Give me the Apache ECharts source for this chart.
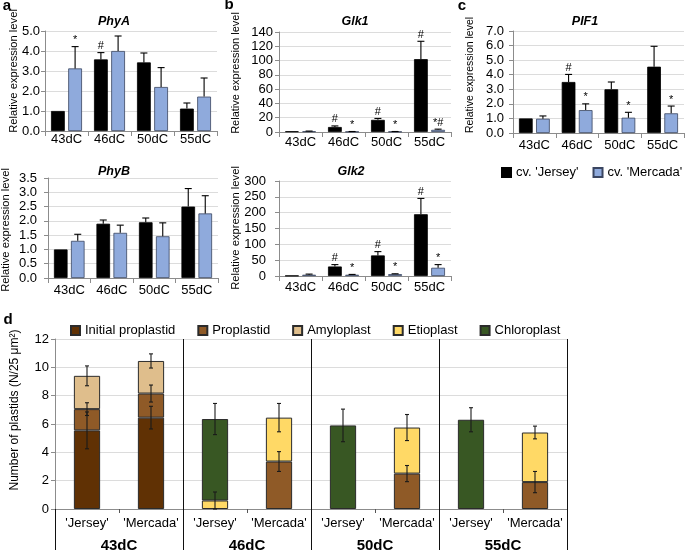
<!DOCTYPE html>
<html><head><meta charset="utf-8">
<script src="https://cdn.jsdelivr.net/npm/echarts@6/dist/echarts.min.js"></script>
<style>html,body{margin:0;padding:0;background:#fff}#c{width:685px;height:554px}</style>
</head><body><div id="c"></div>
<script>
// ---------- DATA ----------
const cats = ['43dC', '46dC', '50dC', '55dC'];
const seriesNames = ["cv. 'Jersey'", "cv. 'Mercada'"];

const phyA_J = [1.0, 3.58, 3.43, 1.12];
const phyA_Jerr = [0, 0.34, 0.47, 0.28];
const phyA_M = [3.13, 4.0, 2.2, 1.72];
const phyA_Merr = [1.09, 0.75, 0.97, 0.93];
const phyA_Jsig = ['', '#', '', ''];
const phyA_Msig = ['*', '', '', ''];

const phyB_J = [1.0, 1.9, 1.95, 2.5];
const phyB_Jerr = [0, 0.13, 0.15, 0.63];
const phyB_M = [1.3, 1.58, 1.46, 2.26];
const phyB_Merr = [0.23, 0.27, 0.47, 0.62];
const phyB_Jsig = ['', '', '', ''];
const phyB_Msig = ['', '', '', ''];

const glk1_J = [1, 7, 17, 102];
const glk1_Jerr = [0, 1.5, 2, 25];
const glk1_M = [1, 0.5, 0.5, 3];
const glk1_Merr = [0.3, 0.2, 0.2, 1];
const glk1_Jsig = ['', '#', '#', '#'];
const glk1_Msig = ['', '*', '*', '*#'];

const glk2_J = [1, 30, 65, 195];
const glk2_Jerr = [0, 6, 12, 50];
const glk2_M = [4, 4, 6, 26];
const glk2_Merr = [2, 1, 1, 10];
const glk2_Jsig = ['', '#', '#', '#'];
const glk2_Msig = ['', '*', '*', '*'];

const pif1_J = [1.0, 3.5, 3.0, 4.55];
const pif1_Jerr = [0, 0.52, 0.5, 1.4];
const pif1_M = [0.98, 1.57, 1.05, 1.35];
const pif1_Merr = [0.19, 0.43, 0.37, 0.5];
const pif1_Jsig = ['', '#', '', ''];
const pif1_Msig = ['', '*', '*', '*'];

// panel d
const dCats = ["'Jersey'", "'Mercada'", "'Jersey'", "'Mercada'", "'Jersey'", "'Mercada'", "'Jersey'", "'Mercada'"];
const dGroups = ['43dC', '46dC', '50dC', '55dC'];
const plastidNames = ['Initial proplastid', 'Proplastid', 'Amyloplast', 'Etioplast', 'Chloroplast'];
const initialP = [5.55, 6.45, null, null, null, null, null, null];
const initialPErr = [1.3, 0.8, null, null, null, null, null, null];
const proP = [1.5, 1.7, null, 3.35, null, 2.5, null, 1.9];
const proPErr = [0.45, 0.6, null, 0.7, null, 0.57, null, 0.75];
const amylo = [2.35, 2.3, null, null, null, null, null, null];
const amyloErr = [0.7, 0.5, null, null, null, null, null, null];
const etio = [null, null, 0.6, 3.1, null, 3.25, null, 3.5];
const etioErr = [null, null, 0.6, 1.0, null, 0.92, null, 0.45];
const chloro = [null, null, 5.75, null, 5.9, null, 6.3, null];
const chloroErr = [null, null, 1.1, null, 1.15, null, 0.85, null];

// ---------- STYLE ----------
const FONT = "'Liberation Sans', Arial, sans-serif";
const colJ = '#000000', colM = '#8faadc';
const plastidColors = ['#603104', '#8f5a27', '#dfbe8c', '#ffd966', '#385723'];
const axisGray = '#8c8c8c', gridGray = '#dcdcdc';

const chart = echarts.init(document.getElementById('c'), null, {renderer: 'canvas'});

const panels = [
  {grid: {left: 45, top: 31, width: 172, height: 100}, max: 5, int: 1, dec: 1, lm: 5, xm: 2,
   J: phyA_J, Je: phyA_Jerr, M: phyA_M, Me: phyA_Merr, Js: phyA_Jsig, Ms: phyA_Msig},
  {grid: {left: 48, top: 178, width: 170, height: 100}, max: 3.5, int: 0.5, dec: 1, lm: 11, xm: 6,
   J: phyB_J, Je: phyB_Jerr, M: phyB_M, Me: phyB_Merr, Js: phyB_Jsig, Ms: phyB_Msig},
  {grid: {left: 279, top: 32, width: 172, height: 100}, max: 140, int: 20, dec: 0, lm: 6, xm: 4,
   J: glk1_J, Je: glk1_Jerr, M: glk1_M, Me: glk1_Merr, Js: glk1_Jsig, Ms: glk1_Msig},
  {grid: {left: 279, top: 181, width: 172, height: 95}, max: 300, int: 50, dec: 0, lm: 13, xm: 5,
   J: glk2_J, Je: glk2_Jerr, M: glk2_M, Me: glk2_Merr, Js: glk2_Jsig, Ms: glk2_Msig},
  {grid: {left: 513, top: 31, width: 171, height: 102}, max: 7, int: 1, dec: 1, lm: 9, xm: 6,
   J: pif1_J, Je: pif1_Jerr, M: pif1_M, Me: pif1_Merr, Js: pif1_Jsig, Ms: pif1_Msig}
];

const grids = [], xAxes = [], yAxes = [], series = [];
const BAR_W = 0.32, BAR_GAP = 0.25;
const OFF = (BAR_W * (1 + BAR_GAP)) / 2;

function errSeries(gi, vals, errs, sig, off, both, z) {
  return {
    type: 'custom', xAxisIndex: gi, yAxisIndex: gi, z: z || 5, silent: true,
    data: vals.map((v, i) => [i, (v == null ? 0 : v) + (errs[i] || 0)]),
    encode: {x: 0, y: 1},
    renderItem: function (params, api) {
      const i = params.dataIndex;
      const v = vals[i], e = errs[i];
      if (v == null) return null;
      const band = api.size([1, 0])[0];
      const base = api.coord([i, v]);
      const x = base[0] + off * band;
      const topY = api.coord([i, v + (e || 0)])[1];
      const botY = both ? api.coord([i, v - (e || 0)])[1] : base[1];
      const ch = [];
      const capW = both ? 2 : 3.5;
      const stroke = both ? '#1a1a1a' : '#000';
      if (e > 0) {
        ch.push({type: 'line', shape: {x1: x, y1: topY, x2: x, y2: botY}, style: {stroke: stroke, lineWidth: 1.1}});
        ch.push({type: 'line', shape: {x1: x - capW, y1: topY, x2: x + capW, y2: topY}, style: {stroke: stroke, lineWidth: 1.1}});
        if (both) ch.push({type: 'line', shape: {x1: x - capW, y1: botY, x2: x + capW, y2: botY}, style: {stroke: stroke, lineWidth: 1.1}});
      }
      if (sig && sig[i]) {
        ch.push({type: 'text', x: x, y: topY - 1, style: {text: sig[i], textAlign: 'center', textVerticalAlign: 'bottom', font: '11px ' + FONT, fill: '#000'}});
      }
      return {type: 'group', children: ch};
    }
  };
}

panels.forEach((p, gi) => {
  grids.push(p.grid);
  xAxes.push({
    type: 'category', gridIndex: gi, data: cats,
    axisLine: {lineStyle: {color: axisGray}},
    axisTick: {show: true, length: 5, lineStyle: {color: axisGray}},
    axisLabel: {margin: p.xm, fontFamily: FONT, fontSize: 13, color: '#000'}
  });
  yAxes.push({
    type: 'value', gridIndex: gi, min: 0, max: p.max, interval: p.int,
    axisLine: {show: true, lineStyle: {color: axisGray}},
    axisTick: {show: true, length: 4, lineStyle: {color: axisGray}},
    splitLine: {lineStyle: {color: gridGray}},
    axisLabel: {margin: p.lm, fontFamily: FONT, fontSize: 13, color: '#000',
      formatter: v => v.toFixed(p.dec)}
  });
  series.push({
    name: seriesNames[0], type: 'bar', xAxisIndex: gi, yAxisIndex: gi, data: p.J,
    barWidth: (BAR_W * 100) + '%', barGap: (BAR_GAP * 100) + '%',
    itemStyle: {color: colJ, borderColor: '#000', borderWidth: 0.8}, silent: true
  });
  series.push({
    name: seriesNames[1], type: 'bar', xAxisIndex: gi, yAxisIndex: gi, data: p.M,
    barWidth: (BAR_W * 100) + '%', barGap: (BAR_GAP * 100) + '%',
    itemStyle: {color: colM, borderColor: '#3a4560', borderWidth: 0.8}, silent: true
  });
  series.push(errSeries(gi, p.J, p.Je, p.Js, -OFF, false));
  series.push(errSeries(gi, p.M, p.Me, p.Ms, OFF, false));
});

// panel d
const dG = panels.length; // grid index 5
grids.push({left: 55, top: 339, width: 512, height: 170});
xAxes.push({
  type: 'category', gridIndex: dG, data: dCats,
  axisLine: {lineStyle: {color: axisGray}},
  axisTick: {show: true, interval: 0, length: 4, lineStyle: {color: '#555'}},
  axisLabel: {margin: 8, interval: 0, fontFamily: FONT, fontSize: 13, color: '#000'}
});
xAxes.push({
  type: 'category', gridIndex: dG, data: dGroups, position: 'bottom',
  axisLine: {show: false},
  axisTick: {show: true, length: 41, lineStyle: {color: '#111'}},
  splitLine: {show: true, lineStyle: {color: '#111', width: 1}},
  axisLabel: {margin: 29, fontFamily: FONT, fontSize: 15, fontWeight: 'bold', color: '#000'}
});
yAxes.push({
  type: 'value', gridIndex: dG, min: 0, max: 12, interval: 2,
  axisLine: {show: true, lineStyle: {color: axisGray}},
  axisTick: {show: true, length: 4, lineStyle: {color: axisGray}},
  splitLine: {lineStyle: {color: gridGray}},
  axisLabel: {margin: 6, fontFamily: FONT, fontSize: 13, color: '#000'}
});
const dVals = [initialP, proP, amylo, etio, chloro];
const dErrs = [initialPErr, proPErr, amyloErr, etioErr, chloroErr];
dVals.forEach((arr, s) => {
  series.push({
    name: plastidNames[s], type: 'bar', xAxisIndex: dG, yAxisIndex: dG, stack: 'plastid',
    data: arr, barWidth: '41%', silent: true,
    itemStyle: {color: plastidColors[s], borderColor: '#2b2b2b', borderWidth: 1}
  });
});
// cumulative tops for error bars
dVals.forEach((arr, s) => {
  const tops = arr.map((v, i) => {
    if (v == null) return null;
    let sum = 0;
    for (let k = 0; k <= s; k++) sum += (dVals[k][i] || 0);
    return sum;
  });
  series.push(errSeries(dG, tops, dErrs[s], null, 0, true, 10));
});

const textStyle = (size, bold, italic) => ({
  font: (italic ? 'italic ' : '') + (bold ? 'bold ' : '') + size + 'px ' + FONT,
  fill: '#000', textAlign: 'center', textVerticalAlign: 'middle'
});
const g = [];
function addText(x, y, text, size, bold, italic, rot) {
  g.push({type: 'text', x: x, y: y, rotation: rot ? Math.PI / 2 : 0, silent: true,
    style: Object.assign({text: text}, textStyle(size, bold, italic))});
}
// panel letters
addText(7, 6, 'a', 15, true);
addText(229, 5, 'b', 15, true);
addText(462, 6, 'c', 15, true);
addText(8, 320, 'd', 15, true);
// gene titles
addText(114, 22, 'PhyA', 12.5, true, true);
addText(114, 172, 'PhyB', 12.5, true, true);
addText(355, 22, 'Glk1', 12.5, true, true);
addText(351, 172, 'Glk2', 12.5, true, true);
addText(585, 22, 'PIF1', 12.5, true, true);
// y titles
addText(14, 71, 'Relative expression level', 11.2, false, false, true);
addText(6, 230, 'Relative expression level', 11.2, false, false, true);
addText(236, 73, 'Relative expression level', 11, false, false, true);
addText(236, 228, 'Relative expression level', 11.2, false, false, true);
addText(470, 75, 'Relative expression level', 10.5, false, false, true);
addText(15, 410, 'Number of plastids (N/25 μm²)', 12, false, false, true);

chart.setOption({
  animation: false,
  backgroundColor: '#fff',
  textStyle: {fontFamily: FONT},
  grid: grids,
  xAxis: xAxes,
  yAxis: yAxes,
  series: series,
  legend: [
    {data: seriesNames, left: 501, top: 166, width: 190, padding: 0, icon: 'rect', itemWidth: 9, itemHeight: 9, itemGap: 14,
     textStyle: {fontFamily: FONT, fontSize: 13, color: '#000'}, selectedMode: false},
    {data: plastidNames, left: 70, top: 324, width: 520, padding: 0, icon: 'rect', itemWidth: 9, itemHeight: 9, itemGap: 22,
     textStyle: {fontFamily: FONT, fontSize: 13, color: '#000'}, selectedMode: false}
  ],
  graphic: g
});
</script></body></html>
